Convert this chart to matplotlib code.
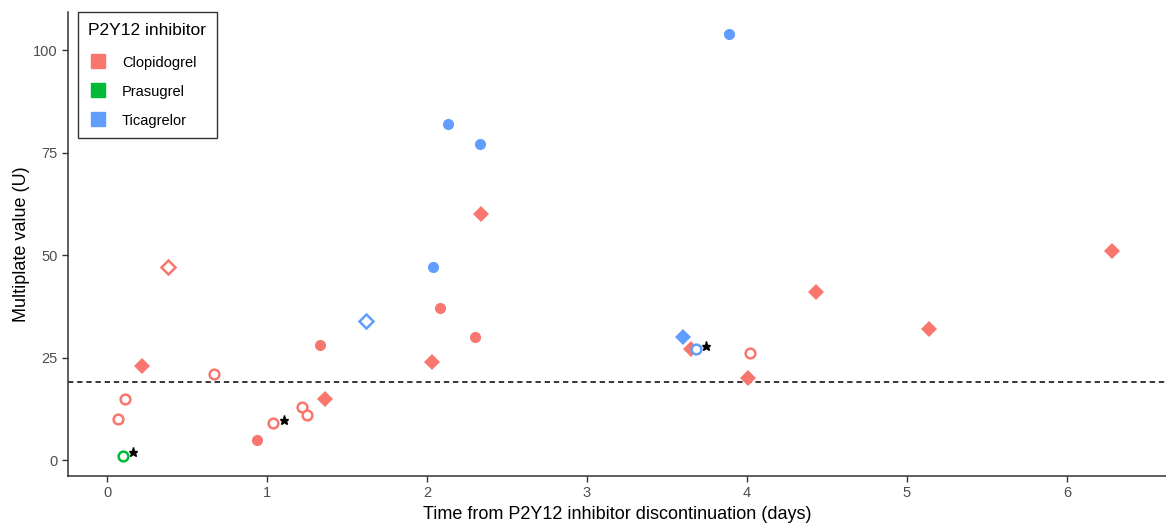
import matplotlib
matplotlib.use("Agg")
import matplotlib.pyplot as plt
from matplotlib.lines import Line2D
from matplotlib.transforms import ScaledTranslation

plt.rcParams["font.family"] = ["Liberation Sans", "DejaVu Sans"]

# data
days = [0.07, 0.11, 0.10, 0.22, 0.38, 0.67, 0.94, 1.04, 1.22, 1.25,
        1.33, 1.36, 1.62, 2.03, 2.04, 2.08, 2.13, 2.30, 2.33, 2.34,
        3.60, 3.65, 3.68, 4.02, 4.01, 3.89, 4.43, 5.14, 6.28]
multiplate = [10, 15, 1, 23, 47, 21, 5, 9, 13, 11,
              28, 15, 34, 24, 47, 37, 82, 30, 77, 60,
              30, 27, 27, 26, 20, 104, 41, 32, 51]
drug = ["Clopidogrel", "Clopidogrel", "Prasugrel", "Clopidogrel", "Clopidogrel",
        "Clopidogrel", "Clopidogrel", "Clopidogrel", "Clopidogrel", "Clopidogrel",
        "Clopidogrel", "Clopidogrel", "Ticagrelor", "Clopidogrel", "Ticagrelor",
        "Clopidogrel", "Ticagrelor", "Clopidogrel", "Ticagrelor", "Clopidogrel",
        "Ticagrelor", "Clopidogrel", "Ticagrelor", "Clopidogrel", "Clopidogrel",
        "Ticagrelor", "Clopidogrel", "Clopidogrel", "Clopidogrel"]
shape = ["o", "o", "o", "D", "D", "o", "o", "o", "o", "o",
         "o", "D", "D", "D", "o", "o", "o", "o", "o", "D",
         "D", "D", "o", "o", "D", "o", "D", "D", "D"]
filled = [False, False, False, True, False, False, True, False, False, False,
          True, True, False, True, True, True, True, True, True, True,
          True, True, False, False, True, True, True, True, True]
starred = [False, False, True, False, False, False, False, True, False, False,
           False, False, False, False, False, False, False, False, False, False,
           False, False, True, False, False, False, False, False, False]

drugs = ["Clopidogrel", "Prasugrel", "Ticagrelor"]
colors = {"Clopidogrel": "#F8766D", "Prasugrel": "#00BA38", "Ticagrelor": "#619CFF"}
threshold = 19

fig = plt.figure(figsize=(11.66, 5.25), dpi=100)
ax = fig.add_axes([0.0583, 0.0933, 0.9417, 0.8837])

ax.axhline(threshold, color="black", linestyle=(0, (3.5, 2.5)), linewidth=1.1, zorder=1)

for x, y, d, m, f in zip(days, multiplate, drug, shape, filled):
    c = colors[d]
    size = 8.5 if m == "D" else 8
    if f:
        ax.plot(x, y, marker=m, markersize=size, color=c, markeredgewidth=0,
                linestyle="none", zorder=3)
    else:
        ax.plot(x, y, marker=m, markersize=size - 1, markerfacecolor="white",
                markeredgecolor=c, markeredgewidth=1.8, linestyle="none", zorder=3)

# asterisks placed just up-right of the flagged points
star_shift = ax.transData + ScaledTranslation(7.5 / 72, 2.5 / 72, fig.dpi_scale_trans)
for x, y, s in zip(days, multiplate, starred):
    if s:
        ax.plot(x, y, marker="*", markersize=6.5, color="black", linestyle="none",
                transform=star_shift, zorder=4)

ax.set_xlim(-0.244, 6.62)
ax.set_ylim(-3.9, 109.3)
ax.set_xticks([0, 1, 2, 3, 4, 5, 6])
ax.set_yticks([0, 25, 50, 75, 100])
ax.tick_params(labelsize=10.5, labelcolor="#4D4D4D", length=4, width=1, color="#333333")
for side in ["top", "right"]:
    ax.spines[side].set_visible(False)
for side in ["left", "bottom"]:
    ax.spines[side].set_linewidth(1.1)
    ax.spines[side].set_color("#333333")

ax.set_xlabel("Time from P2Y12 inhibitor discontinuation (days)", fontsize=13, labelpad=4)
ax.set_ylabel("Multiplate value (U)", fontsize=13, labelpad=2)

handles = [Line2D([], [], marker="s", color=colors[d], linestyle="none", markersize=10.5)
           for d in drugs]
leg = ax.legend(handles, drugs, title="P2Y12 inhibitor", loc="upper left",
                bbox_to_anchor=(0.009, 1.0), borderaxespad=0, fontsize=10.5,
                title_fontsize=12.5, frameon=True, fancybox=False, edgecolor="black",
                handletextpad=1.0, labelspacing=0.98, borderpad=0.72, handlelength=1.3,
                handleheight=1.0)
leg.get_frame().set_linewidth(1.0)
leg._legend_box.align = "left"
leg._legend_box.sep = 13

fig.savefig("out.png", dpi=100)
